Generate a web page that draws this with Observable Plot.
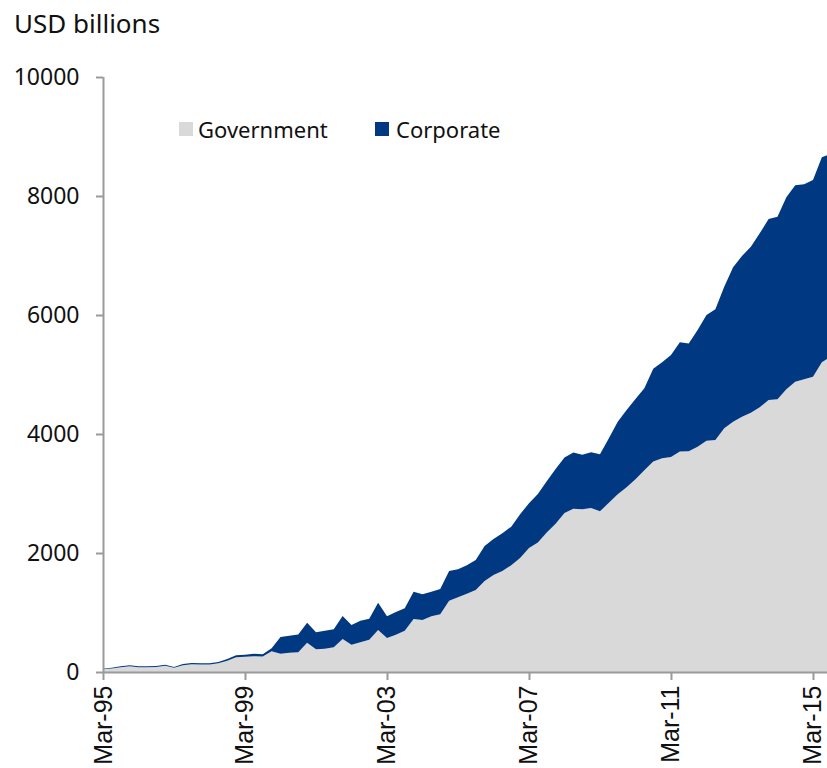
<!DOCTYPE html>
<html>
<head>
<meta charset="utf-8">
<script src="https://cdn.jsdelivr.net/npm/d3@7"></script>
<script src="https://cdn.jsdelivr.net/npm/@observablehq/plot@0.6"></script>
<style>
  html, body { margin: 0; padding: 0; background: #fff; overflow: hidden; }
  #wrap { position: relative; width: 827px; height: 768px; }
  #title { position: absolute; left: 14px; top: 5px; font-family: "Noto Sans", sans-serif; font-size: 26px; color: #111; line-height: normal; white-space: nowrap; }
  #chart { position: absolute; left: 0; top: 48px; }
  .leg { position: absolute; font-family: "Noto Sans", sans-serif; font-size: 22px; color: #111; line-height: normal; white-space: nowrap; }
  .sw { position: absolute; width: 14px; height: 14px; }
</style>
</head>
<body>
<div id="wrap">
  <div id="title">USD billions</div>
  <div id="chart"></div>
  <div class="sw" style="left:179px; top:122px; background:#d9d9d9"></div>
  <div class="leg" style="left:198px; top:114px">Government</div>
  <div class="sw" style="left:375px; top:122px; background:#003882"></div>
  <div class="leg" style="left:396px; top:114px">Corporate</div>
</div>
<script>
// Quarterly, Mar-95 .. Sep-15
const seriesNames = ["Government", "Corporate"];
const seriesColors = ["#d9d9d9", "#003882"];

const government = [
  50, 60, 80, 95, 80, 80, 85, 105, 70, 115,
  130, 125, 125, 145, 190, 250, 258, 265, 262, 350,
  305, 325, 330, 493, 381, 390, 415, 555, 459, 499,
  543, 706, 572, 625, 692, 891, 874, 935, 969, 1199,
  1255, 1317, 1378, 1529, 1630, 1697, 1793, 1915, 2085, 2177,
  2345, 2490, 2672, 2745, 2734, 2756, 2700, 2846, 2986, 3104,
  3238, 3390, 3538, 3591, 3613, 3705, 3708, 3787, 3888, 3899,
  4095, 4207, 4291, 4358, 4448, 4571, 4583, 4751, 4879, 4919,
  4963, 5205, 5300
];
const corporate = [
  10, 13, 15, 17, 15, 15, 15, 18, 14, 19,
  21, 21, 21, 23, 28, 30, 32, 40, 35, 48,
  285, 286, 300, 336, 286, 305, 302, 386, 331, 364,
  353, 459, 363, 383, 378, 457, 431, 415, 426, 498,
  471, 476, 504, 589, 605, 634, 649, 735, 753, 813,
  862, 920, 933, 945, 918, 936, 958, 1081, 1221, 1299,
  1350, 1378, 1560, 1614, 1715, 1835, 1812, 1961, 2112, 2196,
  2381, 2594, 2701, 2790, 2925, 3042, 3069, 3227, 3300, 3277,
  3306, 3445, 3410
];

const monthNames = ["Mar", "Jun", "Sep", "Dec"];
const quarters = government.map((_, i) =>
  monthNames[i % 4] + "-" + String((95 + Math.floor(i / 4)) % 100).padStart(2, "0"));

const xTickLabels = ["Mar-95", "Mar-99", "Mar-03", "Mar-07", "Mar-11", "Mar-15"];
const yTicks = [0, 2000, 4000, 6000, 8000, 10000];

const rows = [];
seriesNames.forEach((s, k) => {
  const vals = k === 0 ? government : corporate;
  vals.forEach((v, i) => rows.push({series: s, q: i, value: v}));
});
const xTickPos = xTickLabels.map(l => quarters.indexOf(l));

const chart = Plot.plot({
  width: 827,
  height: 720,
  marginTop: 29,
  marginBottom: 96,
  marginLeft: 103,
  marginRight: 0,
  style: {background: "#fff", color: "#111", overflow: "visible"},
  x: {domain: [0, 81.58], axis: null, label: null},
  y: {domain: [0, 10000], axis: null, label: null},
  color: {domain: seriesNames, range: seriesColors},
  marks: [
    Plot.areaY(rows, {x: "q", y: "value", fill: "series", order: seriesNames, clip: true}),
    Plot.ruleX([0], {stroke: "#9a9a9a", strokeWidth: 2}),
    Plot.ruleY([0], {stroke: "#9a9a9a", strokeWidth: 2}),
    Plot.axisY({
      ticks: yTicks, tickFormat: d => String(d), tickSize: 7, tickPadding: 17,
      stroke: "#9a9a9a", strokeWidth: 2, fill: "#111", label: null,
      fontSize: 23, fontFamily: "Noto Sans"
    }),
    Plot.axisX({
      ticks: xTickPos, tickFormat: i => quarters[i], tickRotate: -90,
      tickSize: 8, tickPadding: 5, stroke: "#9a9a9a", strokeWidth: 2, fill: "#111", label: null,
      fontSize: 25, fontFamily: "Liberation Sans"
    })
  ]
});
document.getElementById("chart").appendChild(chart);
</script>
</body>
</html>
